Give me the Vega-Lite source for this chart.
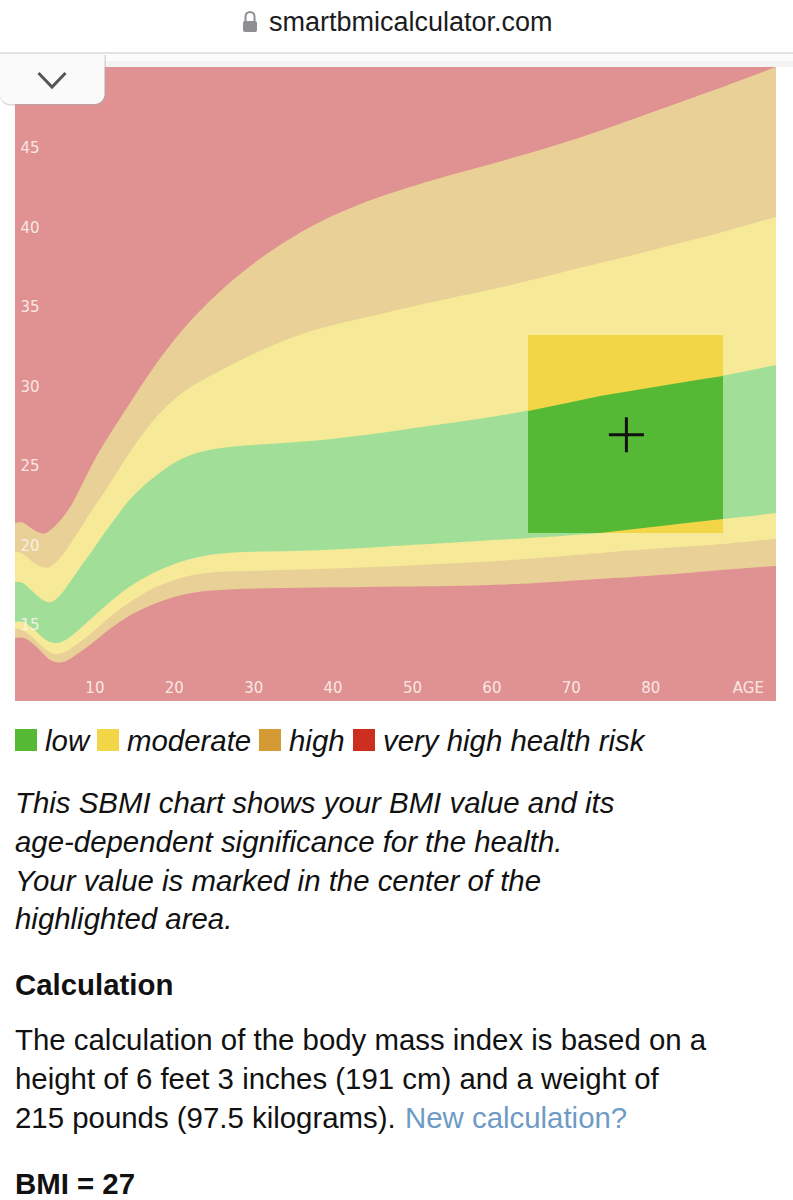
{
"$schema":"https://vega.github.io/schema/vega-lite/v6.json",
"width":761,"height":634,
"autosize":{"type":"none"},
"padding":{"left":15,"top":67,"right":17,"bottom":499},
"background":"#ffffff",
"config":{"view":{"stroke":null},"text":{"font":"Liberation Sans","baseline":"alphabetic"}},
"datasets":{
"bands":[
{"age":0,"b1":14.12,"b2":14.69,"b3":15.13,"b4":17.64,"b5":19.53,"b6":21.35},
{"age":0.5,"b1":14.14,"b2":14.67,"b3":15.15,"b4":17.65,"b5":19.52,"b6":21.4},
{"age":1.01,"b1":14.18,"b2":14.62,"b3":15.19,"b4":17.64,"b5":19.47,"b6":21.42},
{"age":2.27,"b1":13.81,"b2":14.18,"b3":14.75,"b4":17.01,"b5":18.84,"b6":20.91},
{"age":3.53,"b1":13.14,"b2":13.5,"b3":14.08,"b4":16.45,"b5":18.5,"b6":20.6},
{"age":4.41,"b1":12.7,"b2":13.2,"b3":13.85,"b4":16.3,"b5":18.55,"b6":20.85},
{"age":5.29,"b1":12.55,"b2":13.08,"b3":13.75,"b4":16.55,"b5":18.9,"b6":21.29},
{"age":6.3,"b1":12.6,"b2":13.2,"b3":13.95,"b4":17.2,"b5":19.53,"b6":21.86},
{"age":7.3,"b1":12.92,"b2":13.55,"b3":14.31,"b4":17.89,"b5":20.28,"b6":22.61},
{"age":8.56,"b1":13.36,"b2":13.99,"b3":14.87,"b4":18.84,"b5":21.23,"b6":23.87},
{"age":9.82,"b1":13.81,"b2":14.5,"b3":15.44,"b4":19.65,"b5":22.3,"b6":25.19},
{"age":11.33,"b1":14.48,"b2":15.19,"b3":16.13,"b4":20.79,"b5":23.3,"b6":26.45},
{"age":12.85,"b1":15,"b2":15.82,"b3":16.76,"b4":21.79,"b5":24.56,"b6":27.64},
{"age":14.48,"b1":15.57,"b2":16.38,"b3":17.39,"b4":22.92,"b5":25.82,"b6":28.9},
{"age":17,"b1":16.19,"b2":17.2,"b3":18.14,"b4":24.06,"b5":27.64,"b6":30.85},
{"age":20.15,"b1":16.76,"b2":17.83,"b3":18.84,"b4":25.25,"b5":29.28,"b6":32.99},
{"age":23.3,"b1":17.08,"b2":18.21,"b3":19.28,"b4":25.88,"b5":30.28,"b6":34.75},
{"age":27.46,"b1":17.2,"b2":18.33,"b3":19.53,"b4":26.19,"b5":31.35,"b6":36.7},
{"age":31.74,"b1":17.26,"b2":18.36,"b3":19.55,"b4":26.32,"b5":32.42,"b6":38.33},
{"age":35.89,"b1":17.29,"b2":18.42,"b3":19.6,"b4":26.45,"b5":33.24,"b6":39.65},
{"age":40.05,"b1":17.3,"b2":18.48,"b3":19.68,"b4":26.64,"b5":33.81,"b6":40.72},
{"age":44.33,"b1":17.33,"b2":18.56,"b3":19.78,"b4":26.89,"b5":34.3,"b6":41.6},
{"age":48.49,"b1":17.35,"b2":18.65,"b3":19.93,"b4":27.2,"b5":34.8,"b6":42.3},
{"age":54.79,"b1":17.39,"b2":18.8,"b3":20.1,"b4":27.64,"b5":35.5,"b6":43.24},
{"age":61.08,"b1":17.45,"b2":18.96,"b3":20.3,"b4":28.08,"b5":36.13,"b6":44.06},
{"age":69.52,"b1":17.7,"b2":19.28,"b3":20.55,"b4":28.9,"b5":37.2,"b6":45.31},
{"age":73.68,"b1":17.83,"b2":19.47,"b3":20.72,"b4":29.34,"b5":37.7,"b6":46.01},
{"age":79.97,"b1":18.02,"b2":19.72,"b3":21.08,"b4":29.85,"b5":38.46,"b6":47.14},
{"age":86.27,"b1":18.27,"b2":19.91,"b3":21.44,"b4":30.37,"b5":39.28,"b6":48.27},
{"age":89.17,"b1":18.4,"b2":20.03,"b3":21.6,"b4":30.6,"b5":39.65,"b6":48.77},
{"age":95.84,"b1":18.65,"b2":20.35,"b3":21.98,"b4":31.29,"b5":40.6,"b6":50.03}
],
"focus":[
{"age":64.61,"lo":20.72,"hi":28.4},
{"age":69.52,"lo":20.72,"hi":28.9},
{"age":73.68,"lo":20.72,"hi":29.34},
{"age":79.97,"lo":21.08,"hi":29.85},
{"age":86.27,"lo":21.44,"hi":30.37},
{"age":89.17,"lo":21.6,"hi":30.6}
]
},
"layer":[
{"data":{"values":[{"a0":0,"a1":95.84,"lo":10.157,"hi":50.03}]},
 "mark":{"type":"rect","color":"#e09292"},
 "encoding":{
  "x":{"field":"a0","type":"quantitative","scale":{"domain":[0,95.84],"nice":false,"zero":false},
   "axis":{"orient":"bottom","title":null,"domain":false,"ticks":false,"grid":false,"values":[10,20,30,40,50,60,70,80,92.3],
    "labelExpr":"datum.value>90?'AGE':datum.label","labelFont":"DejaVu Sans","labelFontSize":15,"labelColor":"#fdf3ef","labelOpacity":0.9,"labelPadding":-14,"labelBaseline":"middle","labelFlush":false,"labelOverlap":false,"zindex":1}},
  "x2":{"field":"a1"},
  "y":{"field":"lo","type":"quantitative","scale":{"domain":[10.157,50.03],"nice":false,"zero":false},
   "axis":{"orient":"left","title":null,"domain":false,"ticks":false,"grid":false,"values":[15,20,25,30,35,40,45],
    "labelFont":"DejaVu Sans","labelFontSize":15,"labelColor":"#fdf3ef","labelOpacity":0.9,"labelAlign":"left","labelPadding":-5,"labelBaseline":"middle","labelOffset":1,"labelFlush":false,"labelOverlap":false,"zindex":1}},
  "y2":{"field":"hi"}
 }},
{"data":{"name":"bands"},"mark":{"type":"area","color":"#e9d096","interpolate":"basis"},
 "encoding":{"x":{"field":"age","type":"quantitative"},"y":{"field":"b1","type":"quantitative"},"y2":{"field":"b6"}}},
{"data":{"name":"bands"},"mark":{"type":"area","color":"#f6ea99","interpolate":"basis"},
 "encoding":{"x":{"field":"age","type":"quantitative"},"y":{"field":"b2","type":"quantitative"},"y2":{"field":"b5"}}},
{"data":{"name":"bands"},"mark":{"type":"area","color":"#a1df98","interpolate":"basis"},
 "encoding":{"x":{"field":"age","type":"quantitative"},"y":{"field":"b3","type":"quantitative"},"y2":{"field":"b4"}}},
{"data":{"values":[{"a0":64.61,"a1":89.17,"lo":20.72,"hi":33.18}]},"mark":{"type":"rect","color":"#f2d648"},
 "encoding":{"x":{"field":"a0","type":"quantitative"},"x2":{"field":"a1"},"y":{"field":"lo","type":"quantitative"},"y2":{"field":"hi"}}},
{"data":{"name":"focus"},"mark":{"type":"area","color":"#55b935","interpolate":"linear"},
 "encoding":{"x":{"field":"age","type":"quantitative"},"y":{"field":"lo","type":"quantitative"},"y2":{"field":"hi"}}},
{"data":{"values":[{"age":77,"bmi":26.9}]},"mark":{"type":"point","shape":"M-1,0H1M0,-1V1","size":1225,"stroke":"#111111","strokeWidth":3,"filled":false,"opacity":1},
 "encoding":{"x":{"field":"age","type":"quantitative"},"y":{"field":"bmi","type":"quantitative"}}},

{"data":{"values":[{}]},"mark":{"type":"rect","x":-15,"x2":778,"y":-67,"y2":-14,"color":"#ffffff"}},
{"data":{"values":[{}]},"mark":{"type":"rect","x":-15,"x2":778,"y":-15,"y2":-6,"color":"#fbfbfb"}},
{"data":{"values":[{}]},"mark":{"type":"rect","x":-15,"x2":778,"y":-6,"y2":0,"color":"#f3f3f3"}},
{"data":{"values":[{}]},"mark":{"type":"rect","x":-15,"x2":778,"y":-15,"y2":-13,"color":"#e3e3e3"}},
{"data":{"values":[{}]},"mark":{"type":"rect","x":-15,"x2":91,"y":-12,"y2":38.5,"color":"#aaaaaa","opacity":0.45,"cornerRadiusBottomRight":10,"cornerRadiusBottomLeft":10}},
{"data":{"values":[{}]},"mark":{"type":"rect","x":-15,"x2":89.5,"y":-13,"y2":37,"color":"#fafafa","cornerRadiusBottomRight":10,"cornerRadiusBottomLeft":10}},
{"data":{"values":[{}]},"mark":{"type":"point","x":37,"y":13,"shape":"M-1,-0.52L0,0.52L1,-0.52","size":729,"stroke":"#555555","strokeWidth":3,"filled":false,"opacity":1}},

{"data":{"values":[{}]},"mark":{"type":"rect","x":228,"x2":242,"y":-46,"y2":-35,"color":"#8e8e93","cornerRadius":2}},
{"data":{"values":[{}]},"mark":{"type":"point","x":235,"y":-49.6,"shape":"M-1,1V-0.2A1,1 0 0 1 1,-0.2V1","size":81,"stroke":"#8e8e93","strokeWidth":2,"filled":false,"opacity":1}},
{"data":{"values":[{"t":"smartbmicalculator.com"}]},"mark":{"type":"text","x":254,"y":-36,"align":"left","fontSize":27,"font":"Liberation Sans","color":"#1c1c1e"},"encoding":{"text":{"field":"t"}}},

{"data":{"values":[{"c":"#55b935"}]},"mark":{"type":"rect","x":0,"x2":22,"y":662,"y2":684},"encoding":{"color":{"field":"c","type":"nominal","scale":null}}},
{"data":{"values":[{"c":"#f2d648"}]},"mark":{"type":"rect","x":82,"x2":104,"y":662,"y2":684},"encoding":{"color":{"field":"c","type":"nominal","scale":null}}},
{"data":{"values":[{"c":"#d49a33"}]},"mark":{"type":"rect","x":244,"x2":266,"y":662,"y2":684},"encoding":{"color":{"field":"c","type":"nominal","scale":null}}},
{"data":{"values":[{"c":"#cc2f20"}]},"mark":{"type":"rect","x":338,"x2":360,"y":662,"y2":684},"encoding":{"color":{"field":"c","type":"nominal","scale":null}}},
{"data":{"values":[{"t":"low"}]},"mark":{"type":"text","x":30,"y":684,"align":"left","baseline":"alphabetic","fontSize":29.4,"fontStyle":"italic","color":"#111111"},"encoding":{"text":{"field":"t"}}},
{"data":{"values":[{"t":"moderate"}]},"mark":{"type":"text","x":112,"y":684,"align":"left","baseline":"alphabetic","fontSize":29.4,"fontStyle":"italic","color":"#111111"},"encoding":{"text":{"field":"t"}}},
{"data":{"values":[{"t":"high"}]},"mark":{"type":"text","x":274,"y":684,"align":"left","baseline":"alphabetic","fontSize":29.4,"fontStyle":"italic","color":"#111111"},"encoding":{"text":{"field":"t"}}},
{"data":{"values":[{"t":"very high health risk"}]},"mark":{"type":"text","x":368,"y":684,"align":"left","baseline":"alphabetic","fontSize":29.4,"fontStyle":"italic","color":"#111111"},"encoding":{"text":{"field":"t"}}},

{"data":{"values":[{"t":"This SBMI chart shows your BMI value and its\nage-dependent significance for the health.\nYour value is marked in the center of the\nhighlighted area."}]},"mark":{"type":"text","x":0,"y":746,"align":"left","baseline":"alphabetic","fontSize":29.4,"fontStyle":"italic","lineBreak":"\n","lineHeight":38.8,"color":"#111111"},"encoding":{"text":{"field":"t"}}},
{"data":{"values":[{"t":"Calculation"}]},"mark":{"type":"text","x":0,"y":928,"align":"left","baseline":"alphabetic","fontSize":29.4,"fontWeight":"bold","color":"#111111"},"encoding":{"text":{"field":"t"}}},
{"data":{"values":[{"t":"The calculation of the body mass index is based on a\nheight of 6 feet 3 inches (191 cm) and a weight of\n215 pounds (97.5 kilograms)."}]},"mark":{"type":"text","x":0,"y":983,"align":"left","baseline":"alphabetic","fontSize":29.4,"lineBreak":"\n","lineHeight":39,"color":"#111111"},"encoding":{"text":{"field":"t"}}},
{"data":{"values":[{"t":"New calculation?"}]},"mark":{"type":"text","x":390,"y":1061,"align":"left","baseline":"alphabetic","fontSize":29.4,"color":"#6e9bc5"},"encoding":{"text":{"field":"t"}}},
{"data":{"values":[{"t":"BMI = 27"}]},"mark":{"type":"text","x":0,"y":1127,"align":"left","baseline":"alphabetic","fontSize":29.4,"fontWeight":"bold","color":"#111111"},"encoding":{"text":{"field":"t"}}}
]
}
